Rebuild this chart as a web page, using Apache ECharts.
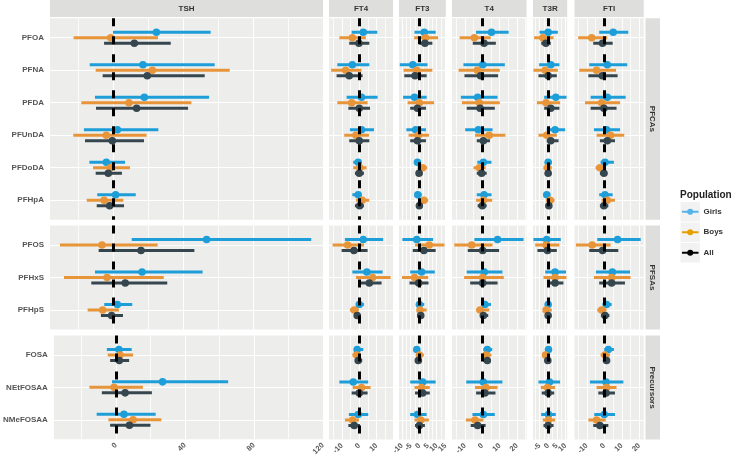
<!DOCTYPE html>
<html>
<head>
<meta charset="utf-8">
<script src="https://cdn.jsdelivr.net/npm/echarts@6/dist/echarts.min.js"></script>
<style>html,body{margin:0;padding:0;background:#fff}#chart{width:736px;height:458px}</style>
</head>
<body>
<div id="chart"></div>
<script>
// ---------- categories ----------
const outcomes = ['TSH', 'FT4', 'FT3', 'T4', 'T3R', 'FTI'];
const groups = ['PFCAs', 'PFSAs', 'Precursors'];
const pfcas = ['PFOA', 'PFNA', 'PFDA', 'PFUnDA', 'PFDoDA', 'PFHpA'];
const pfsas = ['PFOS', 'PFHxS', 'PFHpS'];
const precursors = ['FOSA', 'NEtFOSAA', 'NMeFOSAA'];
const populations = ['Girls', 'Boys', 'All'];

// ---------- tick labels per outcome ----------
const ticksTSH = [0, 40, 80, 120];
const ticksFT4 = [-10, 0, 10];
const ticksFT3 = [-10, -5, 0, 5, 10, 15];
const ticksT4 = [-10, 0, 10, 20];
const ticksT3R = [-5, 0, 5, 10];
const ticksFTI = [-10, 0, 10, 20];

// ---------- values: [lower, estimate, upper], chemical order = PFCAs, PFSAs, Precursors ----------
const TSH_Girls = [[0,24.8,55.8],[-13.3,17.1,58.1],[-10.3,17.9,54.9],[-16.6,2.5,25.9],[-13.5,-3.8,6.9],[-9,1.5,13],
  [10.7,53.5,113.3],[-10.3,16.6,51.2],[-5,2.5,11],[-5.3,1.7,9.1],[-2.3,27,65],[-11.2,4.6,23]];
const TSH_Boys = [[-22.5,-1.3,25.7],[-9.9,22.5,66.7],[-18.1,9.1,44.8],[-22.7,-3.8,19.2],[-11.4,-1.5,9.7],[-15,-5.1,5.9],
  [-30.3,-6.3,25.5],[-28,-3.4,29],[-14.5,-5.9,3.4],[-4.8,2.3,9.9],[-15.4,-1.1,15.6],[-4.4,9.9,26.3]];
const TSH_All = [[-5.1,12.2,33],[-5.9,19.6,52.4],[-9.7,13.5,42.9],[-16,-0.4,17.7],[-9.9,-2.7,5.1],[-9.3,-1.9,6.3],
  [-8.2,16,46.5],[-12.4,7,31],[-6.9,-0.8,5.7],[-3.4,1.9,7.6],[-8.2,5.3,20.8],[-3.4,7.8,20]];

const FT4_Girls = [[-4.4,2.3,10.4],[-12.7,-4,5.8],[-7.3,1.3,10.6],[-5.4,1.3,8.5],[-3.5,-0.6,1],[-4,-0.6,1],
  [-8.3,2.3,13.8],[-4,4.4,13.5],[-1.9,0,2.7],[-3.1,-1.2,2.3],[-11.5,-3.5,5.2],[-6,-0.6,5.2]];
const FT4_Boys = [[-11.5,-4,3.8],[-16.3,-7.9,1.3],[-12.7,-4.4,4.8],[-8.7,-1.9,5.6],[-3.5,0.4,4.2],[-1.9,1.7,5.8],
  [-15.4,-6.7,2.7],[-1.9,7.7,18.1],[-5.4,-2.9,-0.2],[-4,-1.5,0.8],[-3.8,1.3,6.5],[-8.3,-3.8,-0.2]];
const FT4_All = [[-5.8,-0.2,5.8],[-13.1,-5.8,1.9],[-6.3,0,6.2],[-5.8,0,5.8],[-2.5,0,2.7],[-2.5,0.2,2.7],
  [-10.2,-3.1,4.8],[0,5.8,12.9],[-2.5,-1.2,0.8],[-2.5,-0.6,1.7],[-4.4,0,4.8],[-6.3,-2.9,0.4]];

const FT3_Girls = [[-2.8,2.8,9.4],[-11.3,-3.8,4.7],[-9.4,-2.8,4.2],[-7.5,-2.1,3.8],[-3,-1.1,0.4],[-2.5,-0.9,1.3],
  [-9.8,-1.5,7.9],[-5.3,1.3,8.9],[-1.9,0,2.8],[-3,-1.5,0.4],[-5.3,1.9,9.4],[-5.3,-1.1,4.2]];
const FT3_Boys = [[-3,3.6,10.8],[-9.1,-1.5,7.5],[-6.8,0,8.5],[-6.2,-0.6,5.5],[-1.1,1.9,4.5],[-0.6,2.6,5.1],
  [-2.5,5.7,14.5],[-10,-2.8,5.1],[-1.5,0.4,4.2],[-1.9,0,2.6],[-2.8,1.3,6],[-2.8,0.8,5.5]];
const FT3_All = [[0,3.2,7.5],[-8.7,-2.5,4.2],[-5.3,-1.1,3.8],[-5.3,-1.1,3.8],[-1.9,-0.2,1.9],[-1.9,0,1.9],
  [-3.8,2.6,9.4],[-5.7,-0.4,5.3],[-1.1,0.8,2.6],[-2.1,-0.6,1.3],[-2.5,1.9,6],[-2.5,0,3.2]];

const T4_Girls = [[-3.6,5.3,15.2],[-10.9,0.2,13],[-12.4,-2.7,8.8],[-9.9,-2.3,5.9],[-2.9,0.6,5.3],[-3.2,1,5.3],
  [-4.6,8.8,23.8],[-9,1.1,11.6],[0,1.5,5],[0.6,2.9,5.7],[-9.3,0.6,11.6],[-5.7,0.6,7.2]];
const T4_Boys = [[-13.1,-4.6,4.8],[-13.7,-2.9,10.1],[-11.8,-1.7,10.1],[-4.2,4,13.3],[-5.1,-1.7,1.9],[-3.6,0.6,5.7],
  [-16.2,-6.1,5.9],[-10.5,0.2,12.4],[-3.6,-1.3,4],[-0.8,2.1,5.3],[-4.2,2.1,8.8],[-9.5,-4.2,0.6]];
const T4_All = [[-5.5,1,7.8],[-10.3,-1,9.1],[-9,-1.3,7.2],[-3.2,0.6,4.4],[-3.2,-0.4,2.5],[-2.7,0,2.5],
  [-8.4,0.2,9.7],[-7,0.2,8.8],[-1.3,0.6,3.4],[0.6,2.9,5],[-3.6,1.5,7.6],[-6.7,-2.7,1.9]];

const T3R_Girls = [[-5,0,5.6],[-5.2,1.5,6.5],[-2.3,4.4,10.6],[-0.8,4,9.8],[-1.5,0,2.1],[-2.7,-0.8,1.2],
  [-8.5,-0.8,7.3],[-1.7,4,10.3],[-1.3,0,1.5],[-1.3,0.2,1.5],[-5.6,0.8,6.9],[-4,0.2,4.4]];
const T3R_Boys = [[-8.1,-3.1,3.1],[-8.5,-1.7,5.6],[-6.5,-1.2,6.9],[-5.6,-0.8,5],[-2.7,-0.4,2.1],[-1.3,1.2,3.7],
  [-7.5,-1.2,6.5],[-2.7,4,10.6],[-2.7,-1.2,2.1],[-3.1,-1.5,0.8],[-4.2,-0.4,4],[-3.1,0.2,4]];
const T3R_All = [[-4,-1.3,1.5],[-5.6,0,5],[-2.3,1.5,6.5],[-0.8,1.5,6],[-1.3,0,1.7],[-1.3,0.4,2.1],
  [-6.2,-0.4,5],[0,4,8.8],[-1.3,0,1.7],[-1.3,-0.2,1.2],[-3.7,0,3.5],[-2.7,0,3.1]];

const FTI_Girls = [[-2.9,5.1,13.7],[-8.6,1.7,13.1],[-7.8,1.7,12.2],[-5.9,1.3,9],[-2.1,0.4,5.5],[-2.9,0.4,4.8],
  [-4,7.6,20.8],[-4.8,4.6,14.7],[-1,1.3,4.2],[0,2.3,5.5],[-8.2,1,10.9],[-5.7,0,6.1]];
const FTI_Boys = [[-14.9,-7.2,1.7],[-14.3,-4.4,6.7],[-11,-1.5,9],[-4.4,3.6,11.4],[-5,-2.5,1],[-1.5,1.7,6.1],
  [-16.2,-6.9,3.6],[-5.9,4.2,15],[-4,-1.5,1.3],[-2.1,0.4,3.2],[-4.4,1.3,7],[-9.1,-4.4,0.8]];
const FTI_All = [[-6.3,-1,4.8],[-9.1,-1.1,7.6],[-7.8,-0.2,7],[-2.5,1.7,6.1],[-2.5,-0.2,1.7],[-2.5,-0.2,2.3],
  [-8.6,-1,8],[-2.9,4.2,11.8],[-1.9,0.4,2.9],[-0.6,1.3,3.2],[-3.4,1,6.1],[-6.3,-2.5,2.3]];

// ---------- assemble ----------
const groupCats = [pfcas, pfsas, precursors];
const outcomeData = {
  TSH: [TSH_Girls, TSH_Boys, TSH_All],
  FT4: [FT4_Girls, FT4_Boys, FT4_All],
  FT3: [FT3_Girls, FT3_Boys, FT3_All],
  T4: [T4_Girls, T4_Boys, T4_All],
  T3R: [T3R_Girls, T3R_Boys, T3R_All],
  FTI: [FTI_Girls, FTI_Boys, FTI_All]
};
const outcomeTicks = { TSH: ticksTSH, FT4: ticksFT4, FT3: ticksFT3, T4: ticksT4, T3R: ticksT3R, FTI: ticksFTI };

// layout / style (not data)
const colLayout = [
  { left: 50, width: 273, min: -36, max: 120, step: 4, major: 40, minor: 20 },
  { left: 329, width: 64, min: -17.5, max: 19.5, step: 0.5, major: 10, minor: 5 },
  { left: 399, width: 46.8, min: -11.75, max: 15.25, step: 0.25, major: 5, minor: 2.5 },
  { left: 452, width: 74.5, min: -17.5, max: 25.5, step: 0.5, major: 10, minor: 5 },
  { left: 533, width: 34.2, min: -8.75, max: 11, step: 0.25, major: 5, minor: 2.5 },
  { left: 574.5, width: 69.2, min: -17, max: 22.5, step: 0.5, major: 10, minor: 5 }
];
const rowLayout = [
  { top: 18.2, height: 201.5 },
  { top: 225.5, height: 104 },
  { top: 335.5, height: 104 }
];
const plotColors = ['#1E9ED8', '#E8953A', '#36464E'];
const legendColors = ['#56B4E9', '#E69F00', '#000000'];
const dodge = [-0.17, 0, 0.17];
const panelBg = '#EDEDEB';
const stripBg = '#DEDEDC';
const FONT = '"Liberation Sans", Arial, sans-serif';

function isMult(v, m) {
  const r = Math.abs(v / m - Math.round(v / m));
  return r < 1e-6;
}
function xColors(col) {
  const n = Math.round(col.major / col.step);
  const arr = [];
  for (let i = 0; i < n; i++) {
    const v = col.min + i * col.step;
    if (isMult(v, col.major)) arr.push('#FFFFFF');
    else if (isMult(v, col.minor)) arr.push('rgba(255,255,255,0.75)');
    else arr.push('rgba(0,0,0,0)');
  }
  return arr;
}
function yColors(min) {
  const arr = [];
  for (let i = 0; i < 5; i++) {
    const v = min + i * 0.2;
    arr.push(isMult(v, 1) ? '#FFFFFF' : 'rgba(0,0,0,0)');
  }
  return arr;
}

const grids = [], xAxes = [], yAxes = [], series = [], graphics = [];
let gi = 0;
// chemical offset of each group in the 12-long arrays
const groupStart = [0, pfcas.length, pfcas.length + pfsas.length];

rowLayout.forEach((row, r) => {
  const cats = groupCats[r];
  const n = cats.length;
  outcomes.forEach((oc, c) => {
    const col = colLayout[c];
    grids.push({ left: col.left, top: row.top, width: col.width, height: row.height,
      show: true, backgroundColor: panelBg, borderWidth: 0, containLabel: false });
    const ticks = outcomeTicks[oc];
    xAxes.push({
      type: 'value', gridIndex: gi, min: col.min, max: col.max, interval: col.step,
      axisLine: { show: false }, axisTick: { show: false },
      splitLine: { show: true, lineStyle: { color: xColors(col), width: 1 } },
      axisLabel: {
        show: r === rowLayout.length - 1, rotate: 45, margin: 5, fontSize: 7.5, fontWeight: 'bold',
        color: '#5a5a5a', fontFamily: FONT, showMinLabel: true, showMaxLabel: true,
        formatter: v => { for (const t of ticks) { if (Math.abs(v - t) < 1e-6) return String(t); } return ''; }
      }
    });
    const ymin = -0.6, ymax = n - 1 + 0.6;
    yAxes.push({
      type: 'value', gridIndex: gi, min: ymin, max: ymax, interval: 0.2, inverse: true,
      axisLine: { show: false }, axisTick: { show: false },
      splitLine: { show: true, lineStyle: { color: yColors(ymin), width: 1 } },
      axisLabel: {
        show: c === 0, margin: 6, fontSize: 8, fontWeight: 'bold', color: '#555', fontFamily: FONT,
        formatter: v => { const k = Math.round(v); return Math.abs(v - k) < 1e-6 && k >= 0 && k < n ? cats[k] : ''; }
      }
    });
    const data = [];
    for (let i = 0; i < n; i++) {
      populations.forEach((p, pi) => {
        const d = outcomeData[oc][pi][groupStart[r] + i];
        data.push([d[0], d[1], d[2], i + dodge[pi], pi]);
      });
    }
    series.push({
      type: 'custom', xAxisIndex: gi, yAxisIndex: gi, clip: true, z: 2,
      data: data,
      renderItem: (params, api) => {
        const y = api.value(3), pi = api.value(4);
        const a = api.coord([api.value(0), y]);
        const b = api.coord([api.value(2), y]);
        const m = api.coord([api.value(1), y]);
        const color = plotColors[pi];
        return {
          type: 'group', children: [
            { type: 'line', shape: { x1: a[0], y1: a[1], x2: b[0], y2: b[1] }, style: { stroke: color, lineWidth: 3 } },
            { type: 'circle', shape: { cx: m[0], cy: m[1], r: 3.8 }, style: { fill: color } }
          ]
        };
      },
      markLine: {
        silent: true, symbol: ['none', 'none'], label: { show: false }, animation: false,
        lineStyle: { color: '#000', width: 3, type: [8, 10] },
        data: [{ xAxis: 0 }]
      }
    });
    gi++;
  });
});

// top strips
outcomes.forEach((oc, c) => {
  const col = colLayout[c];
  graphics.push({ type: 'rect', shape: { x: col.left, y: 0, width: col.width, height: 17 }, style: { fill: stripBg }, silent: true });
  graphics.push({ type: 'text', x: col.left + col.width / 2, y: 9, style: { text: oc, fill: '#333', font: 'bold 8px ' + FONT, align: 'center', verticalAlign: 'middle' }, silent: true });
});
// right strips
groups.forEach((g, r) => {
  const row = rowLayout[r];
  graphics.push({ type: 'rect', shape: { x: 645.5, y: row.top, width: 14.5, height: row.height }, style: { fill: stripBg }, silent: true });
  graphics.push({ type: 'text', x: 652.7, y: row.top + row.height / 2, rotation: -Math.PI / 2, style: { text: g, fill: '#333', font: 'bold 8px ' + FONT, align: 'center', verticalAlign: 'middle' }, silent: true });
});
// legend
graphics.push({ type: 'text', x: 680, y: 195, style: { text: 'Population', fill: '#222', font: 'bold 10px ' + FONT, align: 'left', verticalAlign: 'middle' }, silent: true });
populations.forEach((p, pi) => {
  const y0 = 202 + pi * 20.5;
  const cy = y0 + 9.75;
  graphics.push({ type: 'rect', shape: { x: 680.5, y: y0, width: 19.5, height: 19.5 }, style: { fill: '#F2F2F2' }, silent: true });
  graphics.push({ type: 'line', shape: { x1: 682, y1: cy, x2: 698.5, y2: cy }, style: { stroke: legendColors[pi], lineWidth: 2 }, silent: true });
  graphics.push({ type: 'circle', shape: { cx: 690.2, cy: cy, r: 3 }, style: { fill: legendColors[pi] }, silent: true });
  graphics.push({ type: 'text', x: 703.5, y: cy, style: { text: p, fill: '#333', font: 'bold 8px ' + FONT, align: 'left', verticalAlign: 'middle' }, silent: true });
});

const chart = echarts.init(document.getElementById('chart'), null, { renderer: 'canvas' });
chart.setOption({
  animation: false,
  backgroundColor: '#FFFFFF',
  grid: grids, xAxis: xAxes, yAxis: yAxes, series: series,
  graphic: graphics
});
</script>
</body>
</html>
